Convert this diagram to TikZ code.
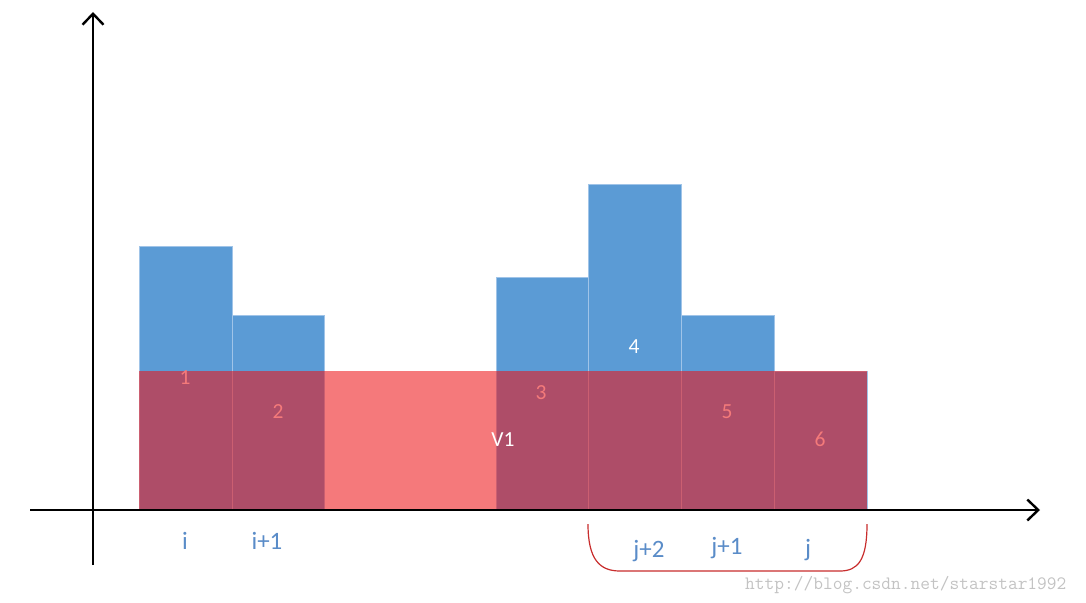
\documentclass[tikz,border=0pt]{standalone}
\usepackage{fontspec}
\setmainfont{Carlito}
\setmonofont{Latin Modern Mono}
\usetikzlibrary{arrows.meta}
\definecolor{barblue}{RGB}{91,155,213}
\definecolor{baredge}{RGB}{160,196,232}
\definecolor{overred}{RGB}{237,19,23}
\definecolor{numred}{RGB}{244,122,122}
\definecolor{lblblue}{RGB}{90,140,200}
\definecolor{brred}{RGB}{200,45,45}
\definecolor{wmgray}{RGB}{195,195,195}
\tikzset{
  bar/.style={fill=barblue, draw=baredge, line width=0.8pt},
  overlay/.style={fill=overred, fill opacity=0.57, draw=none},
  axis/.style={line width=2.4pt, -{Straight Barb[length=11pt,width=21pt,line width=2.4pt]}},
  num/.style={font=\fontsize{21.5}{24}\selectfont, text=numred, anchor=base, inner sep=0pt},
  wnum/.style={num, text=white},
  lbl/.style={font=\fontsize{25}{28}\selectfont, text=lblblue, anchor=base, inner sep=0pt},
  brace/.style={draw=brred, line width=1.2pt},
}
\begin{document}
\begin{tikzpicture}[x=1pt,y=-1pt]
\useasboundingbox (0,0) rectangle (1086,602);
% bars
\draw[bar] (139,246) rectangle (232,510);
\draw[bar] (232,315) rectangle (324,510);
\draw[bar] (496,277) rectangle (588,510);
\draw[bar] (588,184) rectangle (681,510);
\draw[bar] (681,315) rectangle (774,510);
\draw[bar] (774,371) rectangle (867,510);
% red overlay
\fill[overlay] (139,371) rectangle (867,510);
% axes
\coordinate (yb) at (93,565);
\coordinate (yt) at (93,12);
\coordinate (xl) at (30,510);
\coordinate (xr) at (1040,510);
\draw[axis] (yb) -- (yt);
\draw[axis] (xl) -- (xr);
% numbers
\node[num] (n1) at (185,384) {1};
\node[num] (n2) at (278,418) {2};
\node[num] (n3) at (541,399) {3};
\node[wnum] (n4) at (634,353) {4};
\node[num] (n5) at (727,418) {5};
\node[num] (n6) at (820,446) {6};
\node[wnum] (v1) at (503,446) {V1};
% bottom labels
\node[lbl] (li) at (185,549) {i};
\node[lbl] (li1) at (267,549) {i+1};
\node[lbl] (lj2) at (649,557) {j+2};
\node[lbl] (lj1) at (727,554) {j+1};
\node[lbl] (lj) at (808,556) {j};
% bracket
\coordinate (bl) at (588,524);
\coordinate (br) at (867,524);
\draw[brace] (bl) .. controls (588,560) and (600,571) .. (620,571) -- (840,571) .. controls (858,571) and (867,560) .. (br);
% watermark
\node[font=\ttfamily\fontsize{18.9}{20}\selectfont, text=wmgray, anchor=base west, inner sep=0pt] (wm) at (745,589) {http://blog.csdn.net/starstar1992};
\end{tikzpicture}
\end{document}
